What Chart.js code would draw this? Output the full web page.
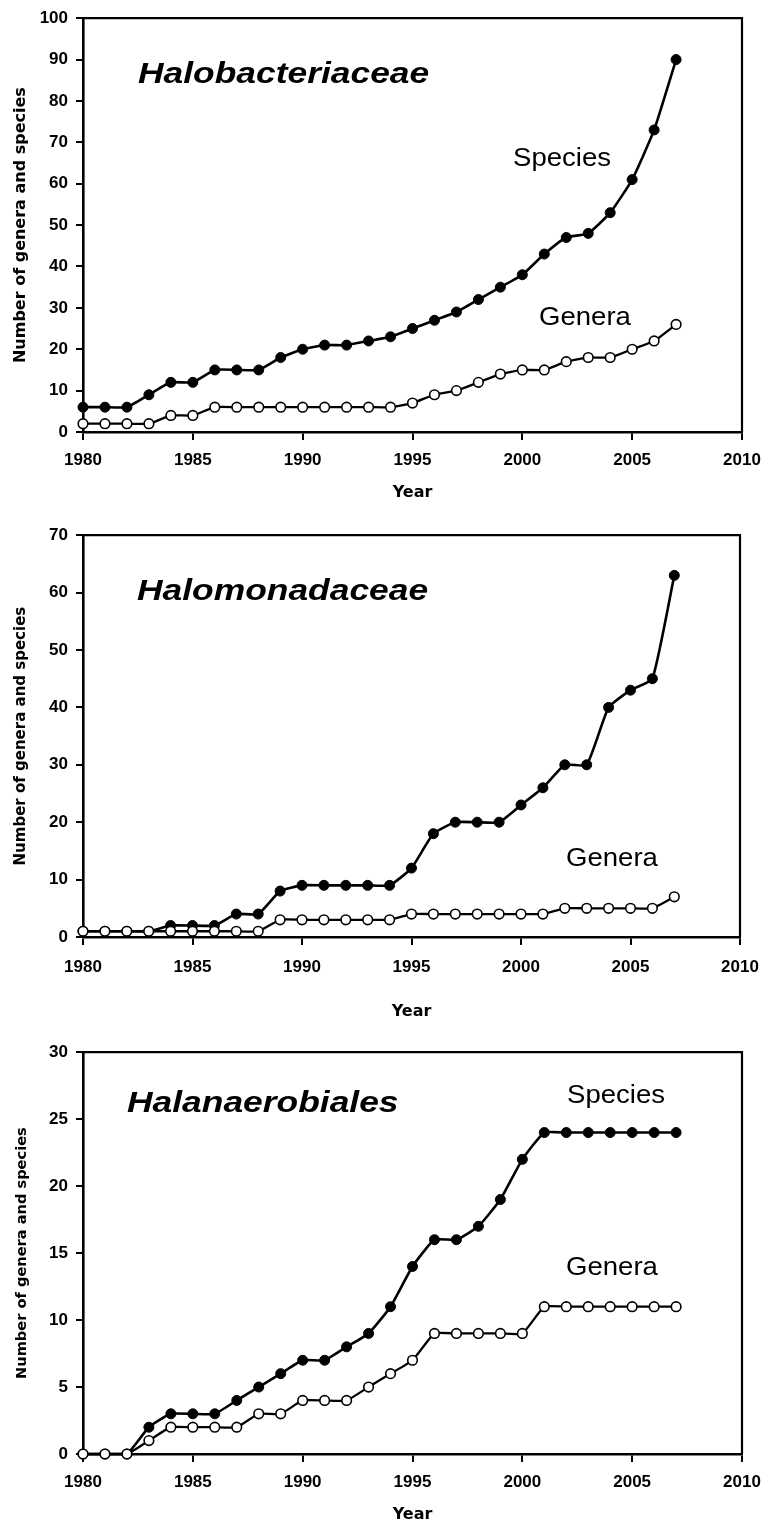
<!DOCTYPE html>
<html>
<head>
<meta charset="utf-8">
<script src="https://cdn.jsdelivr.net/npm/chart.js"></script>
<style>
  html, body { margin: 0; padding: 0; background: #fff; }
  body { width: 763px; height: 1526px; position: relative; overflow: hidden; }
  .panel { position: absolute; left: 0; width: 763px; }
  .panel canvas { display: block; }
  .lbl { position: absolute; white-space: nowrap; line-height: 1; color: #000; transform-origin: 0 0; font-family: "Liberation Sans", Arial, sans-serif; }
  .ttl { font-size: 30px; font-weight: bold; font-style: italic; transform: scaleX(1.18); }
  .ann { font-size: 26px; font-weight: normal; transform: scaleX(1.06); }
</style>
</head>
<body>
<div class="panel" id="p1" style="top:0px;height:510px"><canvas id="c1"></canvas></div>
<div class="panel" id="p2" style="top:517px;height:513px"><canvas id="c2"></canvas></div>
<div class="panel" id="p3" style="top:1034px;height:492px"><canvas id="c3"></canvas></div>

<div class="lbl ttl" style="left:138px;top:57.6px">Halobacteriaceae</div>
<div class="lbl ann" style="left:513px;top:144px">Species</div>
<div class="lbl ann" style="left:539px;top:303px">Genera</div>

<div class="lbl ttl" style="left:137px;top:574.6px">Halomonadaceae</div>
<div class="lbl ann" style="left:566px;top:844px">Genera</div>

<div class="lbl ttl" style="left:127px;top:1086.6px">Halanaerobiales</div>
<div class="lbl ann" style="left:567px;top:1081px">Species</div>
<div class="lbl ann" style="left:566px;top:1253px">Genera</div>

<script>
// ---- data ----
const years = [1980,1981,1982,1983,1984,1985,1986,1987,1988,1989,1990,1991,1992,1993,1994,1995,1996,1997,1998,1999,2000,2001,2002,2003,2004,2005,2006,2007];

const halobacteriaceaeSpecies = [6,6,6,9,12,12,15,15,15,18,20,21,21,22,23,25,27,29,32,35,38,43,47,48,53,61,73,90];
const halobacteriaceaeGenera  = [2,2,2,2,4,4,6,6,6,6,6,6,6,6,6,7,9,10,12,14,15,15,17,18,18,20,22,26];

const halomonadaceaeSpecies = [1,1,1,1,2,2,2,4,4,8,9,9,9,9,9,12,18,20,20,20,23,26,30,30,40,43,45,63];
const halomonadaceaeGenera  = [1,1,1,1,1,1,1,1,1,3,3,3,3,3,3,4,4,4,4,4,4,4,5,5,5,5,5,7];

const halanaerobialesSpecies = [0,0,0,2,3,3,3,4,5,6,7,7,8,9,11,14,16,16,17,19,22,24,24,24,24,24,24,24];
const halanaerobialesGenera  = [0,0,0,1,2,2,2,2,3,3,4,4,4,5,6,7,9,9,9,9,9,11,11,11,11,11,11,11];

const xTickLabels = ["1980","1985","1990","1995","2000","2005","2010"];
const yTicks1 = [0,10,20,30,40,50,60,70,80,90,100];
const yTicks2 = [0,10,20,30,40,50,60,70];
const yTicks3 = [0,5,10,15,20,25,30];

const xAxisTitle = "Year";
const yAxisTitle = "Number of genera and species";

// ---- chart builder ----
const framePlugin = {
  id: 'frame',
  beforeDatasetsDraw(chart) {
    const {ctx, chartArea: a} = chart;
    ctx.save();
    ctx.strokeStyle = '#000';
    ctx.lineWidth = 2.2;
    ctx.beginPath();
    ctx.moveTo(a.left, a.top);
    ctx.lineTo(a.right, a.top);
    ctx.lineTo(a.right, a.bottom);
    ctx.stroke();
    ctx.restore();
  }
};

function pts(values) {
  return years.map((y, i) => ({x: y, y: values[i]}));
}

function makeChart(id, species, genera, yTickVals, opts) {
  const canvas = document.getElementById(id);
  const yMax = yTickVals[yTickVals.length - 1];
  const xMin = Number(xTickLabels[0]);
  const xMax = Number(xTickLabels[xTickLabels.length - 1]);
  const tickFont = { family: '"Liberation Sans", Arial, sans-serif', size: 17, weight: 'bold' };
  return new Chart(canvas, {
    type: 'line',
    data: {
      datasets: [
        {
          label: 'Genera',
          data: pts(genera),
          borderColor: '#000',
          borderWidth: 2.3,
          backgroundColor: '#fff',
          pointBackgroundColor: '#fff',
          pointBorderColor: '#000',
          pointBorderWidth: 1.6,
          pointRadius: 4.8,
          tension: 0.15,
          clip: false
        },
        {
          label: 'Species',
          data: pts(species),
          borderColor: '#000',
          borderWidth: 2.6,
          backgroundColor: '#000',
          pointBackgroundColor: '#000',
          pointBorderColor: '#000',
          pointBorderWidth: 1,
          pointRadius: 5,
          tension: 0.15,
          clip: false
        }
      ]
    },
    options: {
      responsive: true,
      maintainAspectRatio: false,
      animation: false,
      events: [],
      layout: { padding: { top: 15, right: opts.padRight, left: 0, bottom: 0 } },
      plugins: { legend: { display: false }, tooltip: { enabled: false } },
      scales: {
        x: {
          type: 'linear',
          min: xMin, max: xMax,
          afterFit(s) { s.height = opts.xHeight; s.paddingLeft = 0; s.paddingRight = 0; },
          afterBuildTicks(s) { s.ticks = xTickLabels.map(v => ({value: Number(v)})); },
          border: { display: true, color: '#000', width: 2.6 },
          grid: { display: true, drawOnChartArea: false, drawTicks: true, tickLength: 8, color: '#000', lineWidth: 2 },
          ticks: {
            color: '#000',
            padding: opts.xTickPad,
            maxRotation: 0,
            autoSkip: false,
            font: tickFont,
            callback: (v) => String(v)
          },
          title: {
            display: true, text: xAxisTitle, color: '#000',
            padding: { top: 0, bottom: opts.titlePadBottom },
            font: { family: '"DejaVu Sans", sans-serif', size: 16, weight: 'bold' }
          }
        },
        y: {
          min: 0, max: yMax,
          afterFit(s) { s.width = 83; },
          afterBuildTicks(s) { s.ticks = yTickVals.map(v => ({value: v})); },
          border: { display: true, color: '#000', width: 2.6 },
          grid: { display: true, drawOnChartArea: false, drawTicks: true, tickLength: 7, color: '#000', lineWidth: 2 },
          ticks: {
            color: '#000',
            padding: 8,
            autoSkip: false,
            font: tickFont,
            callback: (v) => String(v)
          },
          title: {
            display: true, text: yAxisTitle, color: '#000',
            padding: { top: opts.yTitlePad, bottom: 0 },
            font: { family: '"DejaVu Sans", sans-serif', size: opts.yTitleSize, weight: 'bold' }
          }
        }
      }
    },
    plugins: [framePlugin]
  });
}

makeChart('c1', halobacteriaceaeSpecies, halobacteriaceaeGenera, yTicks1,
  { xHeight: 78, xTickPad: 10, titlePadBottom: 8, yTitleSize: 16, yTitlePad: 11, padRight: 21 });
makeChart('c2', halomonadaceaeSpecies, halomonadaceaeGenera, yTicks2,
  { xHeight: 93, xTickPad: 12, titlePadBottom: 9, yTitleSize: 15, yTitlePad: 12, padRight: 23 });
makeChart('c3', halanaerobialesSpecies, halanaerobialesGenera, yTicks3,
  { xHeight: 72, xTickPad: 10, titlePadBottom: 2, yTitleSize: 14.6, yTitlePad: 13, padRight: 21 });
</script>
</body>
</html>
